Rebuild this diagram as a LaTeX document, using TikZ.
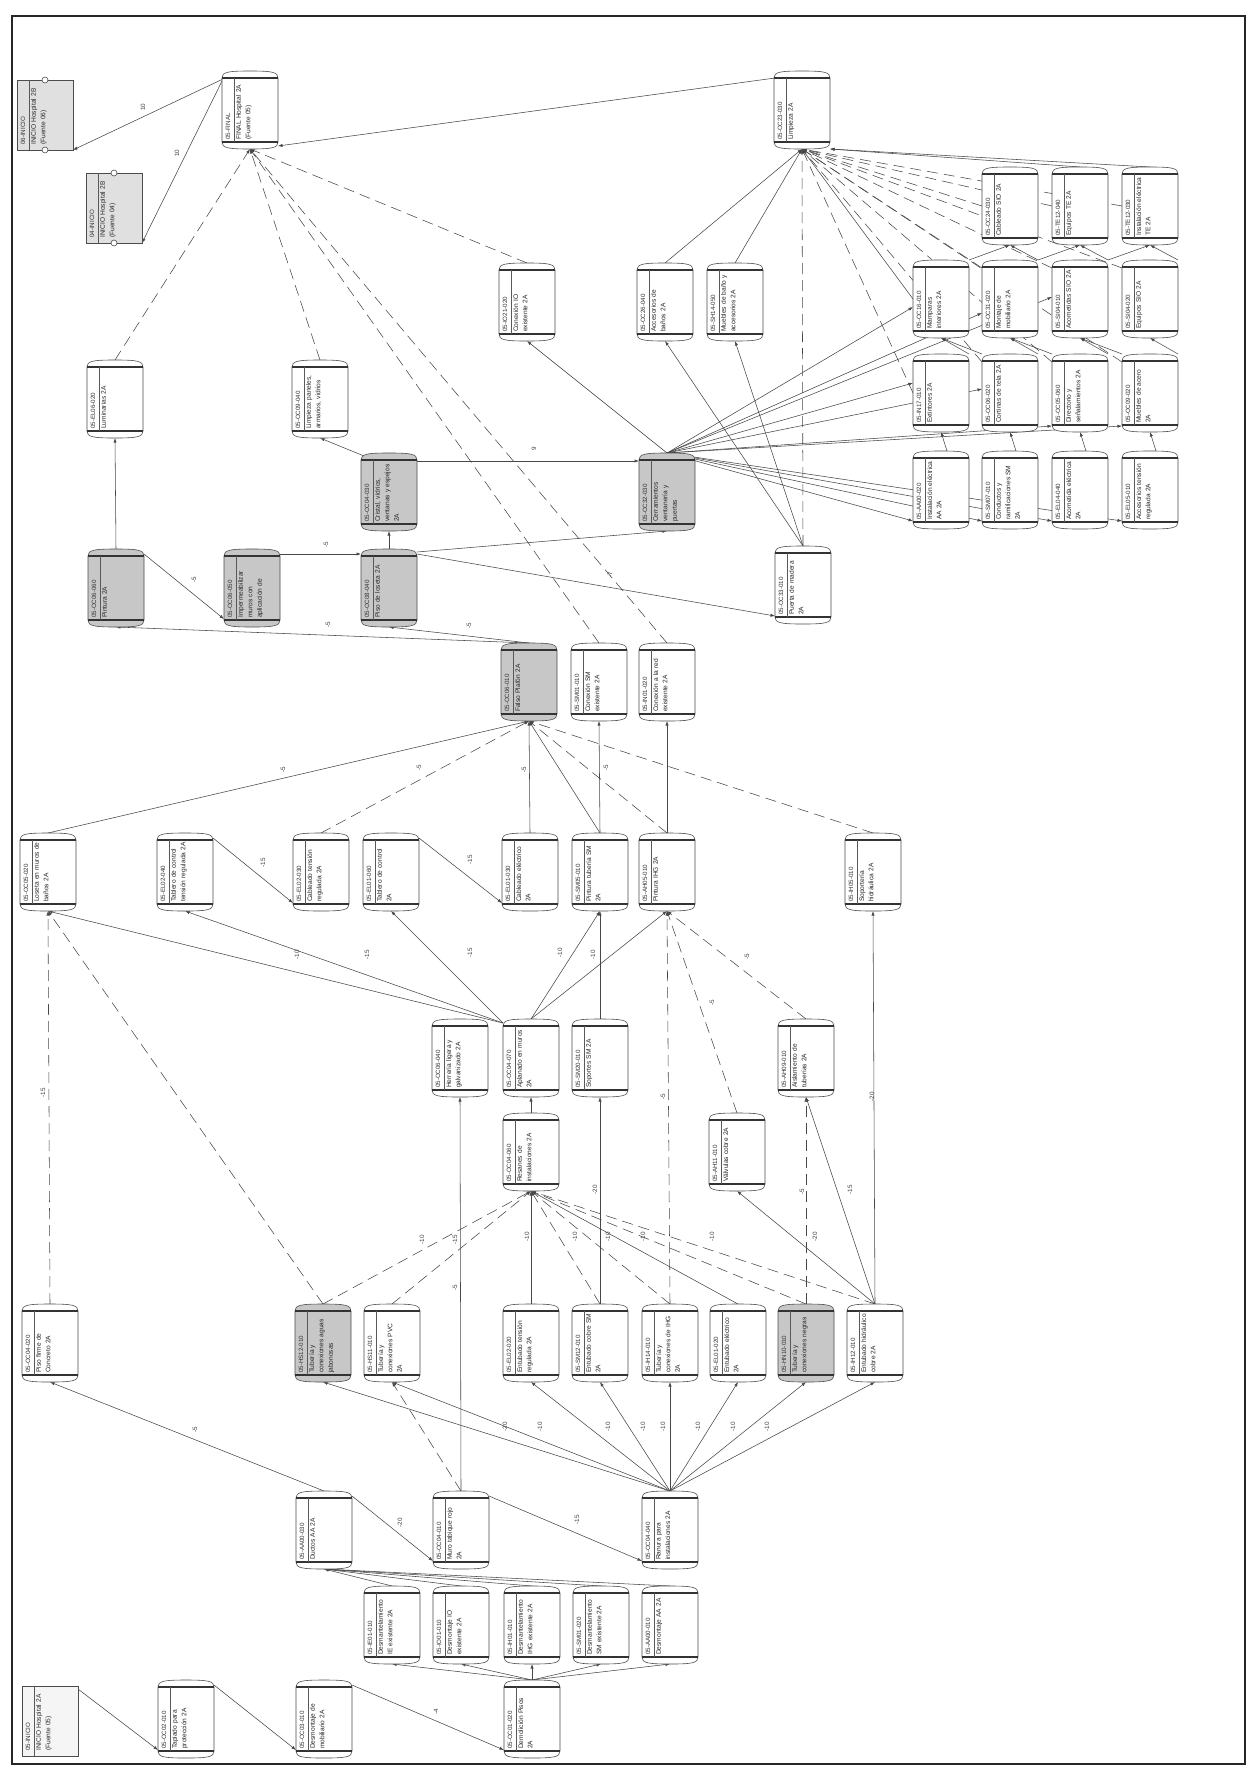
\documentclass[tikz,border=0pt]{standalone}
\usepackage{fontspec}
\setmainfont{Liberation Sans}
\usetikzlibrary{calc,arrows.meta}
\pgfdeclarelayer{bg}
\pgfsetlayers{bg,main}
\colorlet{gfill}{black!22}
\hyphenpenalty=10000
\exhyphenpenalty=10000
\tikzset{
  tbox/.style={inner sep=0pt, outer sep=0pt, minimum width=56pt, minimum height=78pt},
  conn/.style={draw=black!72, line width=0.55pt, -{Latex[length=4.5pt,width=3.2pt]}},
  dconn/.style={conn, dash pattern=on 11pt off 6pt},
  lab/.style={font=\fontsize{6.3}{6.3}\selectfont, rotate=90, inner sep=0.5pt, text=black!75},
  idt/.style={font=\fontsize{6.2}{7}\selectfont, rotate=90, anchor=west, inner sep=0pt, text=black!80},
  dtx/.style={font=\fontsize{6.6}{9.4}\selectfont, execute at begin node={\hyphenpenalty=10000 }, rotate=90, anchor=north west, inner sep=0pt, text width=60pt, align=left, text=black!85},
  outl/.style={draw=black!70, line width=0.6pt},
}
\newcommand\tnode[6]{%
  \node[tbox] (#1) at (#2,#3) {};
  \path[outl, fill=#4] ($(#1.north west)+(0,7)$) .. controls ($(#1.north west)+(0,1)$) and ($(#1.north)+(-22,0)$) .. (#1.north) .. controls ($(#1.north)+(22,0)$) and ($(#1.north east)+(0,1)$) .. ($(#1.north east)+(0,7)$) -- ($(#1.south east)+(0,-7)$) .. controls ($(#1.south east)+(0,-1)$) and ($(#1.south)+(22,0)$) .. (#1.south) .. controls ($(#1.south)+(-22,0)$) and ($(#1.south west)+(0,-1)$) .. ($(#1.south west)+(0,-7)$) -- cycle;
  \draw[black!80, line width=1.1pt] ($(#1.north west)+(0,7)$) -- ($(#1.north east)+(0,7)$);
  \draw[black!80, line width=1.1pt] ($(#1.south west)+(0,-7)$) -- ($(#1.south east)+(0,-7)$);
  \draw[black!65, line width=0.5pt] ($(#1.north west)+(12,7)$) -- ($(#1.south west)+(12,-7)$);
  \node[idt] at ($(#1.south west)+(6,-9)$) {#5};
  \node[dtx] at ($(#1.south west)+(14,-9)$) {#6};
}
\newcommand\rnode[7]{%
  \node[tbox, outl, fill=#4, minimum height=70pt] (#1) at (#2,#3) {};
  \draw[black!65, line width=0.5pt] ($(#1.north west)+(12,0)$) -- ($(#1.south west)+(12,0)$);
  \node[idt] at ($(#1.south west)+(6,-5)$) {#5};
  \node[dtx] at ($(#1.south west)+(14,-5)$) {#6};
  \ifnum#7=1
    \draw[outl, fill=white] (#1.north) circle (3pt);
    \draw[outl, fill=white] (#1.south) circle (3pt);
  \fi
}
\begin{document}
\begin{tikzpicture}[x=1pt,y=-1pt]
\useasboundingbox (0,0) rectangle (1248,1767);
% ---------------- nodes ----------------
\rnode{i06}{45}{115}{black!12}{06-INICIO}{INICIO Hospital 2B (Fuente 06)}{1}
\rnode{i04}{114}{208}{black!12}{04-INICIO}{INICIO Hospital 2B (Fuente 04)}{1}
\tnode{fin}{250}{110}{white}{05-FINAL}{FINAL Hospital 2A (Fuente 05)}
\tnode{lim}{802}{110}{white}{05-OC23-030}{Limpieza 2A}
\tnode{cio}{527}{302}{white}{05-IO21-020}{Conexión IO existente 2A}
\tnode{acc}{665}{302}{white}{05-OC26-040}{Accesorios de baños 2A}
\tnode{mue}{735}{302}{white}{05-SH14-050}{Muebles de baño y accesorios 2A}
\tnode{g12}{1010}{206}{white}{05-OC24-030}{Cableado SIO 2A}
\tnode{g13}{1080}{206}{white}{05-TE12-040}{Equipos TE 2A}
\tnode{g14}{1150}{206}{white}{05-TE12-030}{Instalación eléctrica TE 2A}
\tnode{g21}{941}{299}{white}{05-OC16-010}{Mamparas interiores 2A}
\tnode{g22}{1010}{299}{white}{05-OC31-020}{Montaje de mobiliario 2A}
\tnode{g23}{1080}{299}{white}{05-SI04-010}{Acometidas SIO 2A}
\tnode{g24}{1150}{299}{white}{05-SI04-020}{Equipos SIO 2A}
\tnode{g31}{941}{393}{white}{05-IN17-010}{Extintores 2A}
\tnode{g32}{1010}{393}{white}{05-OC06-020}{Cortinas de tela 2A}
\tnode{g33}{1080}{393}{white}{05-OC05-060}{Directorio y señalamientos 2A}
\tnode{g34}{1150}{393}{white}{05-OC09-020}{Muebles de acero 2A}
\tnode{g41}{941}{490}{white}{05-AA00-020}{Instalación eléctrica AA 2A}
\tnode{g42}{1010}{490}{white}{05-SM07-010}{Conductos y ramificaciones SM 2A}
\tnode{g43}{1080}{490}{white}{05-EL04-040}{Acometida eléctrica 2A}
\tnode{g44}{1150}{490}{white}{05-EL05-010}{Accesorios tensión regulada 2A}
\tnode{lum}{115}{399}{white}{05-EL06-020}{Luminarias 2A}
\tnode{lpa}{320}{399}{white}{05-OC09-040}{Limpieza paneles, armarios, vidrios}
\tnode{cri}{389}{492}{gfill}{05-OC04-030}{Cristal, vidrios, ventanas y espejos 2A}
\tnode{cer}{667}{492}{gfill}{05-OC32-030}{Cerramientos ventanería y puertas}
\tnode{pin}{116}{588}{gfill}{05-OC06-060}{Pintura 2A}
\tnode{imp}{252}{588}{gfill}{05-OC06-050}{Impermeabilizar muros con aplicación de}
\tnode{pis}{389}{588}{gfill}{05-OC08-040}{Piso de loseta 2A}
\tnode{pue}{803}{585}{white}{05-OC33-010}{Puerta de madera 2A}
\tnode{fal}{529}{682}{gfill}{05-OC06-010}{Falso Plafón 2A}
\tnode{csm}{599}{682}{white}{05-SM01-010}{Conexión SM existente 2A}
\tnode{cre}{667}{682}{white}{05-IN01-020}{Conexión a la red existente 2A}
\tnode{los}{48}{872}{white}{05-OC05-020}{Loseta en muros de baños 2A}
\tnode{ttr}{185}{872}{white}{05-EL02-040}{Tablero de control tensión regulada 2A}
\tnode{ctr}{321}{872}{white}{05-EL02-030}{Cableado tensión regulada 2A}
\tnode{tco}{391}{872}{white}{05-EL01-060}{Tablero de control 2A}
\tnode{cel}{530}{872}{white}{05-EL01-030}{Cableado eléctrico 2A}
\tnode{pts}{600}{872}{white}{05-SM05-010}{Pintura tubería SM 2A}
\tnode{pih}{667}{872}{white}{05-AH05-010}{Pintura IHG 2A}
\tnode{soh}{873}{872}{white}{05-IH05-010}{Soportería hidráulica 2A}
\tnode{her}{460}{1058}{white}{05-OC06-040}{Herrería ligera y galvanizado 2A}
\tnode{apl}{531}{1058}{white}{05-OC04-070}{Aplanado en muros 2A}
\tnode{ssm}{600}{1058}{white}{05-SM20-010}{Soportes SM 2A}
\tnode{ais}{806}{1058}{white}{05-AH09-010}{Aislamiento de tuberías 2A}
\tnode{res}{531}{1152}{white}{05-OC04-060}{Resanes de instalaciones 2A}
\tnode{val}{737}{1152}{white}{05-AH11-010}{Válvulas cobre 2A}
\tnode{pfc}{50}{1343}{white}{05-OC04-020}{Piso firme de Concreto 2A}
\tnode{tjb}{323}{1343}{gfill}{05-HS12-010}{Tubería y conexiones aguas jabonosas}
\tnode{tpv}{392}{1343}{white}{05-HS11-010}{Tubería y conexiones PVC 2A}
\tnode{etr}{531}{1343}{white}{05-EL02-020}{Entubado tensión regulada 2A}
\tnode{ecs}{600}{1343}{white}{05-SM12-010}{Entubado cobre SM 2A}
\tnode{tih}{670}{1343}{white}{05-IH14-010}{Tubería y conexiones de IHG 2A}
\tnode{eel}{738}{1343}{white}{05-EL01-020}{Entubado eléctrico 2A}
\tnode{tne}{806}{1343}{gfill}{05-HN10-010}{Tubería y conexiones negras}
\tnode{ehc}{875}{1343}{white}{05-IH12-010}{Entubado hidráulico cobre 2A}
\tnode{dua}{324}{1530}{white}{05-AA00-030}{Ductos AA 2A}
\tnode{mur}{461}{1530}{white}{05-OC04-010}{Muro tabique rojo 2A}
\tnode{ran}{670}{1530}{white}{05-OC04-040}{Ranura para instalaciones 2A}
\tnode{die}{392}{1625}{white}{05-IE01-010}{Desmantelamiento IE existente 2A}
\tnode{dio}{461}{1625}{white}{05-IO01-010}{Desmontaje IO existente 2A}
\tnode{dih}{532}{1625}{white}{05-IH01-010}{Desmantelamiento IHG existente 2A}
\tnode{dsm}{601}{1625}{white}{05-SM01-020}{Desmantelamiento SM existente 2A}
\tnode{daa}{670}{1625}{white}{05-AA00-010}{Desmontaje AA 2A}
\rnode{i05}{50}{1721}{black!4}{05-INICIO}{INICIO Hospital 2A (Fuente 05)}{0}
\tnode{tap}{186}{1719}{white}{05-OC02-010}{Tapiado para protección 2A}
\tnode{dmo}{324}{1719}{white}{05-OC03-010}{Desmontaje de mobiliario 2A}
\tnode{dpi}{532}{1719}{white}{05-OC01-020}{Demolición Pisos 2A}
% ---------------- connectors ----------------
\begin{pgfonlayer}{bg}
\fill[white] (0,0) rectangle (1248,1767);
\draw[conn] ($(fin.north west)+(1,8)$) -- (i06.south east);
\draw[conn] ($(fin.north west)+(1,8)$) -- (i04.south east);
\draw[conn] ($(lim.north west)+(1,7)$) -- ($(fin.south east)+(0,-3)$);
\foreach \n in {lum,lpa,cio,csm,cre} \draw[dconn] (\n.north) -- (fin.south);
% Limpieza hub
\draw[conn] (acc.north) -- (lim.south);
\draw[conn] (mue.north) -- (lim.south);
\draw[dconn] (pue.north) -- (lim.south);
\draw[conn] (g21.west) -- (lim.south);
\foreach \n in {g12,g13,g14,g31} \draw[dconn] (\n.west) -- (lim.south);
\foreach \n in {g22,g23,g24,g32,g33,g34} \draw[dconn] ($(\n.north west)+(0,8)$) -- (lim.south);
\draw[conn] (g13.north) -- (lim.south east);
\draw[conn] (g14.north) -- (lim.south east);
\draw[conn] (pue.north) -- (acc.south);
\draw[conn] (pue.north) -- (mue.south);
% Cerramientos
\draw[conn] (cer.north) -- (cio.south);
\draw[conn] (cer.north) -- ($(g21.west)+(0,8)$);
\draw[conn] (cer.north) -- ($(g22.west)+(0,14)$);
\draw[conn] (cer.north) -- ($(g23.west)+(0,-2)$);
\draw[conn] (cer.north) -- ($(g31.west)+(0,-10)$);
\draw[conn] (cer.north) -- ($(g32.west)+(0,-4)$);
\draw[conn] (cer.north) -- ($(g33.south west)+(0,-6)$);
\draw[conn] (cer.north) -- ($(g34.south west)+(0,-6)$);
\foreach \n in {g41,g42,g43,g44} \draw[conn] (cer.north) -- ($(\n.south west)+(0,-8)$);
% grid links
\draw[conn] (g21.north east) -- (g12.south);
\draw[conn] (g22.north east) -- (g12.south);
\draw[conn] (g22.north east) -- (g13.south);
\draw[conn] (g23.north east) -- (g13.south);
\draw[conn] (g23.north east) -- (g14.south);
\draw[conn] (g24.north east) -- (g14.south);
\draw[conn] (g31.north east) -- (g21.south);
\draw[conn] (g32.north west) -- (g21.south);
\draw[conn] (g32.north east) -- (g22.south);
\draw[conn] (g33.north west) -- (g22.south);
\draw[conn] (g33.north east) -- (g23.south);
\draw[conn] (g34.north west) -- (g23.south);
\draw[conn] (g34.north east) -- (g24.south);
\draw[conn] ($(g41.north)+(6,0)$) -- (g31.south);
\draw[conn] ($(g42.north)+(6,0)$) -- (g32.south);
\draw[conn] ($(g43.north)+(6,0)$) -- (g33.south);
\draw[conn] ($(g44.north)+(6,0)$) -- (g34.south);
% middle left
\draw[conn] (pin.north) -- (lum.south);
\draw[conn] ($(pin.north east)+(0,5)$) -- ($(imp.south west)+(0,-8)$);
\draw[conn] ($(imp.north east)+(0,5)$) -- ($(pis.north west)+(0,5)$);
\draw[conn] (pis.north) -- (cri.south);
\draw[conn] ($(cri.north west)+(3,3)$) -- (lpa.south);
\draw[conn] ($(cri.north east)+(0,8)$) -- ($(cer.north west)+(0,8)$);
\draw[conn] ($(pis.north east)+(0,5)$) -- ($(pue.south west)+(0,-8)$);
\draw[conn] ($(pis.north east)+(0,3)$) -- (cer.south);
\draw[conn] (fal.north) -- (pin.south);
\draw[conn] (fal.north) -- (pis.south);
% Falso plafon hub
\draw[conn] (los.north) -- (fal.south);
\draw[dconn] (ctr.north) -- (fal.south);
\draw[conn] (cel.north) -- (fal.south);
\draw[conn] (pts.north) -- (fal.south);
\draw[dconn] (pih.north) -- (fal.south);
\draw[dconn] (soh.north) -- (fal.south);
\draw[conn] (pts.north) -- (csm.south);
\draw[conn] (pih.north) -- (cre.south);
% Aplanado
\draw[conn] ($(apl.north west)+(0,4)$) -- (los.south);
\draw[conn] ($(apl.north west)+(0,4)$) -- (ttr.south);
\draw[conn] ($(apl.north west)+(0,4)$) -- (tco.south);
\draw[conn] ($(ttr.north east)+(0,5)$) -- ($(ctr.south west)+(0,-8)$);
\draw[conn] ($(tco.north east)+(0,5)$) -- ($(cel.south west)+(0,-8)$);
\draw[conn] (apl.north) -- (pts.south);
\draw[conn] (ssm.north) -- (pts.south);
\draw[conn] (apl.north) -- (pih.south);
\draw[dconn] (tih.north) -- (pih.south);
\draw[dconn] (val.north) -- (pih.south);
\draw[dconn] (ais.north) -- (pih.south);
\draw[conn] (ehc.north) -- (soh.south);
\draw[conn] (res.north) -- (apl.south);
\draw[conn] (ecs.north) -- (ssm.south);
\draw[conn] (mur.north) -- (her.south);
% Resanes hub
\draw[conn] (etr.north) -- (res.south);
\draw[dconn] (ecs.north) -- (res.south);
\draw[dconn] (tih.north) -- (res.south);
\draw[conn] (eel.north) -- (res.south);
\draw[dconn] (tne.north) -- (res.south);
\draw[dconn] (ehc.north) -- (res.south);
\draw[dconn] (tjb.north) -- (res.south);
\draw[dconn] (tpv.north) -- (res.south);
% Loseta, aislamiento
\draw[dconn] (pfc.north) -- (los.south);
\draw[dconn] (tjb.north) -- (los.south);
\draw[dconn] (tne.north) -- (ais.south);
\draw[conn] (ehc.north) -- (ais.south);
\draw[conn] (ehc.north) -- (val.south);
% Ranura hub
\foreach \n in {tjb,tpv,etr,ecs,tih,eel,tne,ehc} \draw[conn] (ran.north) -- (\n.south);
% bottom
\draw[conn] (dua.north) -- (pfc.south);
\draw[conn] ($(dua.north east)+(0,5)$) -- ($(mur.south west)+(0,-8)$);
\draw[conn] ($(mur.north east)+(0,5)$) -- ($(ran.south west)+(0,-8)$);
\draw[dconn] (mur.north) -- (tpv.south);
\foreach \n in {die,dio,dih,dsm,daa} \draw[conn] (\n.north) -- (dua.south);
\foreach \n in {die,dio,dih,dsm,daa} \draw[conn] (dpi.north) -- (\n.south);
\draw[conn] ($(i05.north east)+(0,3)$) -- ($(tap.south west)+(0,-8)$);
\draw[conn] ($(tap.north east)+(0,5)$) -- ($(dmo.south west)+(0,-8)$);
\draw[conn] ($(dmo.north east)+(0,5)$) -- ($(dpi.south west)+(0,-8)$);
\end{pgfonlayer}
% ---------------- labels ----------------
\node[lab] (l1) at (143,107) {10};
\node[lab] (l2) at (177,153) {10};
\node[lab] (l3) at (194,580) {-5};
\node[lab] (l4) at (326,545) {-5};
\node[lab] (l5) at (534,449) {9};
\node[lab] (l6) at (610,575) {-7};
\node[lab] (l7) at (328,625) {-5};
\node[lab] (l8) at (469,626) {-5};
\node[lab] (l9) at (283,770) {-5};
\node[lab] (l10) at (419,768) {-5};
\node[lab] (l11) at (524,770) {-5};
\node[lab] (l12) at (606,768) {-5};
\node[lab] (l13) at (263,863) {-15};
\node[lab] (l14) at (470,860) {-15};
\node[lab] (l15) at (297,955) {-10};
\node[lab] (l16) at (367,955) {-15};
\node[lab] (l17) at (470,953) {-15};
\node[lab] (l18) at (560,953) {-10};
\node[lab] (l19) at (593,955) {-10};
\node[lab] (l20) at (747,957) {-5};
\node[lab] (l21) at (712,1003) {-5};
\node[lab] (l22) at (663,1097) {-5};
\node[lab] (l23) at (872,1097) {-20};
\node[lab] (l24) at (43,1093) {-15};
\node[lab] (l25) at (595,1190) {-20};
\node[lab] (l26) at (802,1192) {-5};
\node[lab] (l27) at (850,1190) {-15};
\node[lab] (l28) at (527,1237) {-10};
\node[lab] (l29) at (575,1237) {-10};
\node[lab] (l30) at (608,1237) {-10};
\node[lab] (l31) at (643,1237) {-10};
\node[lab] (l32) at (712,1237) {-10};
\node[lab] (l33) at (815,1237) {-20};
\node[lab] (l34) at (422,1240) {-10};
\node[lab] (l35) at (455,1240) {-15};
\node[lab] (l36) at (455,1288) {-5};
\node[lab] (l37) at (505,1427) {-20};
\node[lab] (l38) at (540,1427) {-10};
\node[lab] (l39) at (608,1427) {-10};
\node[lab] (l40) at (643,1427) {-10};
\node[lab] (l41) at (663,1427) {-10};
\node[lab] (l42) at (698,1427) {-10};
\node[lab] (l43) at (733,1427) {-10};
\node[lab] (l44) at (767,1427) {-10};
\node[lab] (l45) at (195,1430) {-5};
\node[lab] (l46) at (400,1523) {-20};
\node[lab] (l47) at (577,1520) {-15};
\node[lab] (l48) at (436,1712) {-4};
% frame
\draw[line width=1.6pt, black!85] (12,16) rectangle (1245,1764);
\end{tikzpicture}
\end{document}
